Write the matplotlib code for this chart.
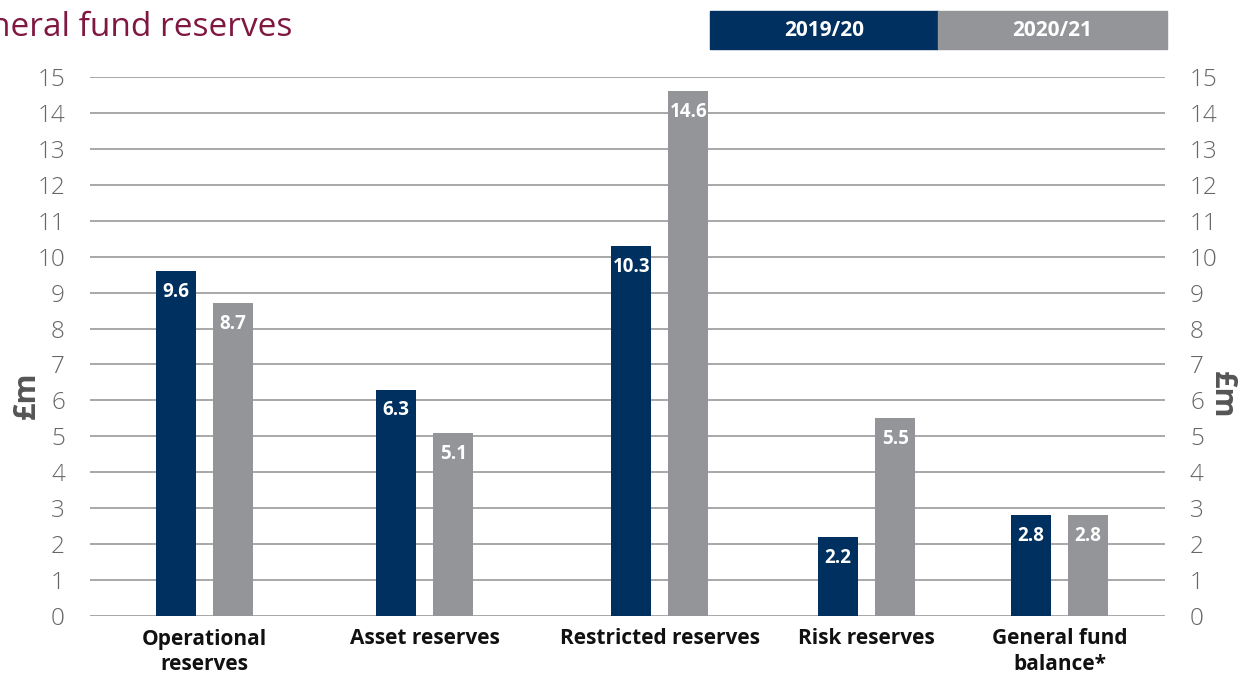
import matplotlib
matplotlib.use("Agg")
import matplotlib.pyplot as plt
import numpy as np

plt.rcParams['font.family'] = ['Open Sans', 'DejaVu Sans']

categories = ["Operational\nreserves", "Asset reserves", "Restricted reserves",
              "Risk reserves", "General fund\nbalance*"]
series_names = ["2019/20", "2020/21"]
values_1920 = [9.6, 6.3, 10.3, 2.2, 2.8]
values_2021 = [8.7, 5.1, 14.6, 5.5, 2.8]
yticks = list(range(0, 16))

# layout (group centres, unevenly spaced as in the original)
group_pos = np.array([0.0, 1.002, 2.07, 3.01, 3.886])
bar_w = 0.182
offset = 0.13

navy = "#00305f"
grey = "#939598"
maroon = "#7f1741"
tick_col = "#666666"

fig = plt.figure(figsize=(12.47, 6.76), dpi=100)
ax = fig.add_axes([90/1247, 1-616/676, (1165-90)/1247, (616-77)/676])

for y in yticks:
    ax.axhline(y, color="#9a9a9a", lw=1.2, zorder=1)

b1 = ax.bar(group_pos - offset, values_1920, bar_w, color=navy, zorder=2)
b2 = ax.bar(group_pos + offset, values_2021, bar_w, color=grey, zorder=2)

for bars, vals in ((b1, values_1920), (b2, values_2021)):
    for r, v in zip(bars, vals):
        ax.annotate(f"{v:.1f}", (r.get_x() + r.get_width()/2, v),
                    xytext=(0, -15), textcoords="offset points",
                    ha="center", va="center", color="white",
                    fontsize=13.5, fontweight="bold", zorder=3)

ax.set_xlim(-0.52, 4.366)
ax.set_ylim(0, 15)
ax.set_yticks(yticks)
ax.set_yticklabels([str(t) for t in yticks])
ax.tick_params(axis="y", length=0, pad=18, labelsize=17.5, labelcolor=tick_col,
               right=True, labelright=True, left=False, labelleft=True)
for lab in ax.get_yticklabels():
    lab.set_fontweight("light")
ax.set_xticks(group_pos)
ax.set_xticklabels(categories, fontsize=15, fontweight="bold", color="#111111",
                   linespacing=1.3)
ax.tick_params(axis="x", length=0, pad=9)
for s in ax.spines.values():
    s.set_visible(False)

fig.text(27/1247, 1-395/676, "£m", rotation=90, ha="center", va="center",
         fontsize=22, fontweight="bold", color="#555555")
fig.text(1222/1247, 1-395/676, "£m", rotation=270, ha="center", va="center",
         fontsize=22, fontweight="bold", color="#555555")

fig.text(292/1247, 1-27/676, "General fund reserves", ha="right", va="center",
         fontsize=24, color=maroon)

# legend boxes
lx0, lx1, lx2 = 710/1247, 938/1247, 1167/1247
ly0, ly1 = 1-49/676, 1-11/676
for (xa, xb), col, name in (((lx0, lx1), navy, series_names[0]),
                            ((lx1, lx2), grey, series_names[1])):
    fig.patches.append(plt.Rectangle((xa, ly0), xb - xa, ly1 - ly0,
                                     transform=fig.transFigure, color=col))
    fig.text((xa + xb)/2, (ly0 + ly1)/2, name, ha="center", va="center",
             color="white", fontsize=15, fontweight="bold")

fig.savefig("out.png", dpi=100)
